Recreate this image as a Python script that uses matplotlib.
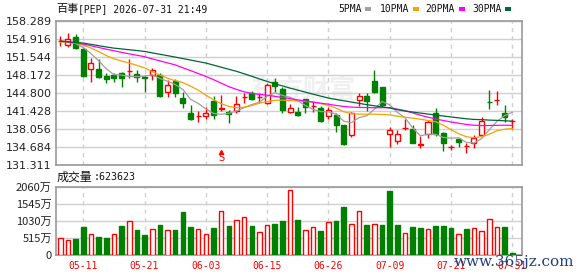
import matplotlib
matplotlib.use('Agg')
import matplotlib.pyplot as plt
from matplotlib.patches import Rectangle

# ---------------- data ----------------
dates = ["05-06", "05-07", "05-08", "05-11", "05-12", "05-13", "05-14", "05-15", "05-18", "05-19",
         "05-20", "05-21", "05-22", "05-26", "05-27", "05-28", "05-29", "06-01", "06-02", "06-03",
         "06-04", "06-05", "06-08", "06-09", "06-10", "06-11", "06-12", "06-15", "06-16", "06-17",
         "06-18", "06-22", "06-23", "06-24", "06-25", "06-26", "06-29", "06-30", "07-01", "07-02",
         "07-06", "07-07", "07-08", "07-09", "07-10", "07-13", "07-14", "07-15", "07-16", "07-17",
         "07-20", "07-21", "07-22", "07-23", "07-24", "07-27", "07-28", "07-29", "07-30", "07-31"]

open_ = [154.55, 153.83, 155.39, 153.08, 149.26, 149.32, 148.06, 148.19, 148.62, 148.90,
         148.32, 147.87, 148.19, 148.19, 144.93, 147.12, 143.81, 140.98, 140.45, 140.48,
         143.35, 141.88, 141.23, 141.42, 144.06, 144.86, 144.08, 142.98, 146.82, 145.56,
         141.17, 141.29, 143.62, 142.32, 142.04, 140.53, 140.66, 138.78, 137.03, 143.49,
         144.30, 147.06, 145.88, 137.22, 135.83, 138.25, 138.16, 135.12, 137.22, 140.98,
         137.41, 134.67, 136.28, 134.80, 135.45, 137.03, 143.14, 143.46, 140.98, 139.51]
close = [154.60, 154.90, 153.21, 148.06, 150.39, 147.87, 147.38, 147.68, 147.68, 149.00,
         147.87, 147.57, 149.13, 144.30, 146.31, 144.86, 142.87, 139.86, 140.52, 141.10,
         140.66, 141.96, 140.85, 142.68, 144.14, 143.67, 144.16, 146.31, 146.12, 141.61,
         141.92, 140.66, 142.11, 142.40, 139.59, 141.60, 138.78, 135.34, 140.98, 144.24,
         143.35, 145.05, 142.55, 137.84, 137.22, 138.31, 135.45, 135.18, 139.29, 137.09,
         135.45, 134.73, 135.64, 134.86, 136.47, 139.59, 143.08, 143.52, 140.23, 139.57]
high = [155.53, 156.03, 155.90, 153.21, 151.33, 151.20, 148.51, 148.62, 148.81, 151.14,
        149.13, 148.19, 149.45, 148.51, 147.25, 147.38, 145.05, 142.55, 141.42, 142.11,
        144.24, 144.43, 141.70, 144.24, 144.86, 145.18, 144.86, 146.63, 147.68, 145.88,
        142.73, 142.11, 143.73, 143.30, 142.36, 142.23, 140.98, 138.91, 141.29, 144.86,
        144.75, 149.13, 145.99, 138.46, 137.84, 140.04, 138.78, 136.71, 139.72, 141.92,
        137.52, 135.15, 136.47, 135.45, 137.03, 140.23, 145.37, 145.27, 142.55, 139.91]
low = [153.64, 153.51, 153.08, 147.87, 146.93, 147.68, 146.74, 146.82, 145.99, 147.57,
       146.93, 145.05, 147.34, 144.11, 144.11, 144.11, 142.04, 139.72, 139.40, 139.86,
       139.86, 141.42, 139.25, 140.98, 142.98, 143.49, 142.87, 142.73, 145.05, 140.98,
       141.10, 140.48, 140.98, 141.29, 139.40, 140.04, 137.52, 135.02, 136.58, 142.36,
       141.42, 144.75, 142.23, 134.70, 135.34, 137.84, 135.45, 134.59, 136.47, 136.71,
       133.95, 134.21, 134.70, 133.57, 134.59, 136.90, 141.89, 142.55, 139.40, 138.03]

ma5 = [154.49, 154.40, 154.11, 153.36, 152.23, 150.89, 149.38, 148.28, 148.20, 147.92,
       147.92, 147.96, 148.25, 147.57, 147.04, 146.43, 145.49, 143.64, 142.88, 141.84,
       141.00, 140.82, 141.02, 141.45, 142.06, 142.66, 143.10, 144.19, 144.88, 144.37,
       144.02, 143.32, 142.48, 141.74, 141.34, 141.27, 140.90, 139.54, 139.26, 140.19,
       140.54, 141.79, 143.23, 142.61, 141.20, 140.19, 138.27, 136.80, 137.09, 137.06,
       136.49, 136.35, 136.44, 135.55, 135.43, 136.26, 137.93, 139.50, 140.58, 141.20]
ma10 = [154.40, 154.30, 154.21, 153.83, 153.27, 152.61, 151.86, 151.25, 150.82, 150.45,
        150.01, 149.54, 148.85, 148.19, 147.62, 147.12, 146.78, 146.12, 145.37, 144.43,
        143.58, 142.83, 142.30, 142.07, 142.17, 142.45, 142.92, 143.24, 143.45, 143.49,
        143.39, 143.34, 143.24, 143.11, 142.83, 142.49, 141.98, 141.32, 140.95, 140.85,
        140.85, 140.85, 140.80, 140.72, 140.48, 140.29, 140.10, 139.91, 139.67, 139.44,
        138.78, 137.94, 137.19, 136.62, 136.43, 136.62, 137.09, 137.75, 138.03, 138.16]
ma20 = [154.58, 154.40, 154.21, 154.02, 153.70, 153.38, 153.06, 152.76, 152.46, 152.18,
        151.91, 151.65, 151.24, 150.86, 150.48, 150.11, 149.56, 149.04, 148.49, 147.94,
        147.34, 146.68, 146.02, 145.50, 145.05, 144.75, 144.56, 144.43, 144.20, 143.99,
        143.77, 143.54, 143.32, 143.11, 142.92, 142.73, 142.49, 142.30, 142.17, 142.13,
        142.09, 142.07, 142.07, 142.07, 141.79, 141.51, 141.08, 140.66, 140.29, 139.95,
        139.67, 139.39, 139.16, 138.92, 138.78, 138.71, 138.73, 138.76, 138.78, 138.75]
ma30 = [154.58, 154.45, 154.32, 154.21, 153.96, 153.72, 153.47, 153.25, 153.10, 152.95,
        152.80, 152.63, 152.36, 152.10, 151.84, 151.57, 151.29, 151.01, 150.73, 150.45,
        150.07, 149.67, 149.28, 148.90, 148.43, 147.96, 147.47, 147.00, 146.57, 146.16,
        145.74, 145.37, 144.99, 144.61, 144.24, 143.88, 143.62, 143.37, 143.13, 142.88,
        142.64, 142.43, 142.23, 142.02, 141.70, 141.45, 141.25, 141.06, 140.87, 140.68,
        140.51, 140.33, 140.16, 139.99, 139.87, 139.82, 139.74, 139.69, 139.61, 139.54]

# volume in 万 shares
volume = [508, 447, 487, 852, 630, 548, 517, 630, 882, 1025,
          761, 609, 791, 913, 761, 761, 1308, 832, 791, 639,
          822, 1339, 882, 1065, 1156, 882, 700, 913, 943, 1035,
          1948, 1065, 761, 852, 730, 1004, 1035, 1461, 943, 1339,
          913, 943, 913, 1926, 913, 660, 852, 822, 791, 882,
          882, 822, 630, 791, 822, 730, 1096, 852, 852, 62.36]
vol_up = [1, 1, 0, 0, 1, 0, 0, 1, 0, 1,
          0, 0, 1, 0, 1, 0, 0, 0, 1, 1,
          0, 1, 0, 1, 1, 0, 1, 1, 0, 0,
          1, 0, 1, 1, 0, 1, 0, 0, 1, 1,
          0, 1, 0, 0, 0, 1, 0, 0, 1, 0,
          0, 0, 1, 0, 1, 1, 1, 1, 0, 0]

price_ticks = [131.311, 134.684, 138.056, 141.428, 144.800, 148.172, 151.544, 154.916, 158.289]
vol_ticks = [0, 515, 1030, 1545, 2060]
vol_tick_labels = ["0", "515万", "1030万", "1545万", "2060万"]
label_every = 8
label_start = 3
signal_idx = [21]
signal_price = [133.0]
title_name = "百事"
title_rest = "[PEP] 2026-07-31 21:49"
vol_title = "成交量"
vol_last = ":623623"
ma_names = ["5PMA", "10PMA", "20PMA", "30PMA"]

# ---------------- style ----------------
RED = '#ff0000'
GREEN = '#008000'
MA_COLORS = ['#a0a0a0', '#f4a300', '#ff00ff', '#006633']
GRID = '#d0d0d0'
FRAME = '#999999'
CJK = ['Noto Sans CJK SC', 'DejaVu Sans']
MONO = ['DejaVu Sans Mono', 'Noto Sans CJK SC']

W, H = 578, 276
fig = plt.figure(figsize=(W / 100, H / 100), dpi=100)


def rect(l, t, r, b):
    return [l / W, 1 - b / H, (r - l) / W, (b - t) / H]


ax = fig.add_axes(rect(56, 21.3, 522, 165))
axv = fig.add_axes(rect(56, 186.7, 522, 255))

n = len(close)
xs = list(range(n))
XL = (-0.56, 60.27)

# ---- candles ----
bw = 0.66
for i in xs:
    o, c, h, l = open_[i], close[i], high[i], low[i]
    up = c >= o
    col = RED if up else GREEN
    ax.vlines(i, l, h, color=col, lw=1.0, zorder=3)
    bottom = min(o, c)
    height = max(abs(c - o), 0.02)
    ax.add_patch(Rectangle((i - bw / 2, bottom), bw, height,
                           facecolor='white' if up else GREEN,
                           edgecolor=col, lw=1.0, zorder=4))

for vals, colr in zip([ma5, ma10, ma20, ma30], MA_COLORS):
    ax.plot(xs, vals, color=colr, lw=0.9, zorder=5)

for si, sp in zip(signal_idx, signal_price):
    ax.plot(si, sp + 0.75, marker='^', markersize=3, color=RED, zorder=6)
    ax.text(si, sp - 0.35, 'S', color=RED, fontsize=7, ha='center', va='center',
            family='DejaVu Sans', zorder=6)

ax.set_xlim(*XL)
ax.set_ylim(price_ticks[0], price_ticks[-1])
ax.set_yticks(price_ticks)
ax.set_yticklabels(['%.3f' % t for t in price_ticks])
tick_idx = list(range(label_start, n, label_every))
ax.set_xticks(tick_idx)
ax.set_xticklabels([])
ax.grid(axis='y', color=GRID, lw=1.0, zorder=0)
ax.grid(axis='x', color=GRID, lw=1.0, linestyle=(0, (3, 3)), zorder=0)
ax.tick_params(axis='both', length=0)
ax.tick_params(axis='y', labelsize=8, labelcolor='#222222', pad=3)
for s in ax.spines.values():
    s.set_color(FRAME)
    s.set_linewidth(1.2)

# faint watermark
ax.text(0.53, 0.52, '东方财富', transform=ax.transAxes, fontsize=19, color='#f0f0f0',
        family=CJK, fontweight='bold', ha='center', va='center', zorder=1)

# ---- volume ----
for i in xs:
    up = vol_up[i] == 1
    col = RED if up else GREEN
    axv.bar(i, volume[i], width=0.6, facecolor='white' if up else GREEN,
            edgecolor=col, lw=1.0, zorder=3)
axv.set_xlim(*XL)
axv.set_ylim(0, vol_ticks[-1])
axv.set_yticks(vol_ticks)
axv.set_yticklabels(vol_tick_labels, family=CJK)
axv.set_xticks(tick_idx)
axv.set_xticklabels([dates[i] for i in tick_idx], family=MONO, color=RED)
axv.grid(axis='y', color=GRID, lw=1.0, zorder=0)
axv.grid(axis='x', color=GRID, lw=1.0, linestyle=(0, (3, 3)), zorder=0)
axv.tick_params(axis='both', length=0)
axv.tick_params(axis='y', labelsize=8, labelcolor='#222222', pad=3)
axv.tick_params(axis='x', labelsize=7, pad=4)
for s in axv.spines.values():
    s.set_color(FRAME)
    s.set_linewidth(1.2)


def fx(px):
    return px / W


def fy(py):
    return 1 - py / H


# ---- title texts ----
fig.text(fx(56), fy(9), title_name, family=CJK, fontsize=8.0, va='center', ha='left', color='#111111')
fig.text(fx(78), fy(9), title_rest, family=MONO, fontsize=7.0, va='center', ha='left', color='#111111')
fig.text(fx(57), fy(177), vol_title, family=CJK, fontsize=8.6, va='center', ha='left', color='#111111')
fig.text(fx(94), fy(177), vol_last, family=MONO, fontsize=7.2, va='center', ha='left', color='#111111')

# ---- legend ----
leg_x = [338, 380, 425, 472]
sw_x = [365, 413, 459, 505]
for name, lx, sx, colr in zip(ma_names, leg_x, sw_x, MA_COLORS):
    fig.text(fx(lx), fy(9), name, family=MONO, fontsize=7.0, va='center', ha='left', color='#111111')
    fig.patches.append(Rectangle((fx(sx), fy(11)), 6 / W, 4 / H, transform=fig.transFigure,
                                 facecolor=colr, edgecolor='none', figure=fig))

# site watermark (overlaps the last date labels, as in the reference)
fig.text(fx(454), fy(262), 'www.365jz.com', family='DejaVu Serif', fontsize=11,
         color='#223f7a', va='center', ha='left')

fig.savefig('out.png', dpi=100)
